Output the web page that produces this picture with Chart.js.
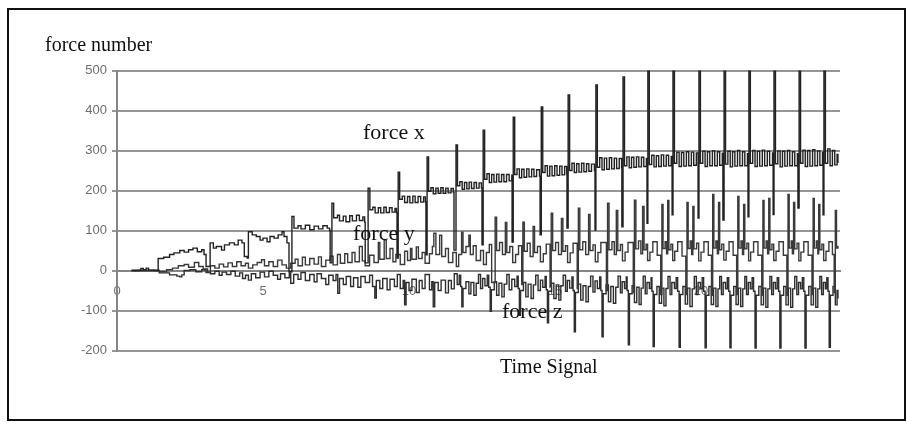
<!DOCTYPE html>
<html>
<head>
<meta charset="utf-8">
<script src="https://cdn.jsdelivr.net/npm/chart.js@4.4.1/dist/chart.umd.min.js"></script>
<style>
  html, body { margin: 0; padding: 0; background: #fff; }
  #wrap { position: relative; width: 907px; height: 422px; overflow: hidden; }
  #frame { position: absolute; left: 7px; top: 8px; width: 899px; height: 413px; border: 2px solid #111; box-sizing: border-box; }
  #chart { position: absolute; left: 0; top: 0; }
  .lbl { position: absolute; font-family: 'Liberation Serif', 'Times New Roman', serif; color: #111; line-height: 1; white-space: nowrap; }
</style>
</head>
<body>
<div id="wrap">
  <div id="frame"></div>
  <canvas id="chart" width="907" height="422"></canvas>
  <div class="lbl" style="left:45px;top:34px;font-size:20px">force number</div>
  <div class="lbl" style="left:500px;top:356px;font-size:20px">Time Signal</div>
  <div class="lbl" style="left:363px;top:121px;font-size:22px">force x</div>
  <div class="lbl" style="left:353px;top:222px;font-size:22px">force y</div>
  <div class="lbl" style="left:502px;top:300px;font-size:22px">force z</div>
</div>
<script>
// --- data: [time, force] ---
const xTicks = [0, 5, 10, 15, 20];
const yTicks = [-200, -100, 0, 100, 200, 300, 400, 500];

const forceX = [
  [0.5,0],[0.75,1],[0.82,5],[0.9,2],[1.0,6],[1.08,1],[1.3,0],[1.39,0],
  [1.41,30],[1.6,33],[1.8,40],[1.95,44],[2.15,50],[2.3,46],[2.45,52],[2.6,56],[2.75,47],[2.9,52],[2.98,40],[3.05,10],[3.15,10],
  [3.19,69],[3.3,56],[3.4,60],[3.58,51],[3.68,64],[3.85,69],[4.02,64],[4.15,76],[4.28,69],[4.36,35],[4.46,31],
  [4.5,97],[4.63,89],[4.77,85],[4.9,76],[5.0,81],[5.14,72],[5.24,85],[5.38,81],[5.52,89],[5.65,97],[5.72,85],[5.82,69],[5.89,-3],
  [5.99,135],[6.06,106],[6.2,112],[6.3,104],[6.45,113],[6.6,102],[6.75,111],[6.9,104],[7.05,112],[7.2,106],[7.28,100],[7.3,19],
  [7.36,168],[7.42,132],[7.55,138],[7.62,124],[7.75,136],[7.84,122],[7.97,137],[8.06,124],[8.2,138],[8.3,125],[8.42,134],[8.48,121],[8.5,19],
  [8.6,206],[8.66,152],[8.76,158],[8.84,144],[8.95,157],[9.03,144],[9.14,158],[9.22,145],[9.33,157],[9.42,146],[9.52,155],[9.57,145],[9.59,31],
  [9.63,246],[9.68,178],[9.77,186],[9.85,170],[9.95,185],[10.03,169],[10.13,186],[10.21,170],[10.31,185],[10.4,171],[10.5,184],[10.56,172],[10.58,39],
  [10.62,284],[10.67,198],[10.75,207],[10.83,192],[10.92,206],[11.0,193],[11.09,207],[11.17,193],[11.26,206],[11.34,194],[11.44,205],[11.52,195],[11.54,51],
  [11.61,314],[11.66,212],[11.74,222],[11.82,203],[11.9,220],[11.98,204],[12.06,221],[12.14,205],[12.23,220],[12.31,206],[12.4,219],[12.48,207],[12.5,64],
  [12.54,351],[12.59,228],[12.67,242],[12.75,220],[12.83,240],[12.91,221],[13.0,241],[13.08,222],[13.17,240],[13.25,222],[13.34,240],[13.43,224],[13.52,238],[13.53,71],
  [13.57,383],[13.62,240],[13.7,254],[13.78,232],[13.86,253],[13.94,233],[14.03,254],[14.11,234],[14.2,253],[14.28,235],[14.37,252],[14.47,236],[14.49,89],
  [14.53,409],[14.58,245],[14.66,262],[14.74,236],[14.82,261],[14.9,237],[14.99,262],[15.07,238],[15.16,261],[15.24,239],[15.33,260],[15.4,242],[15.41,106],
  [15.45,439],[15.5,250],[15.58,268],[15.66,245],[15.74,267],[15.82,246],[15.91,268],[15.99,247],[16.08,267],[16.16,248],[16.25,266],[16.35,250],[16.37,101],
  [16.4,464],[16.45,258],[16.53,282],[16.61,252],[16.69,281],[16.77,253],[16.86,282],[16.94,254],[17.03,281],[17.11,255],[17.2,280],[17.28,258],[17.29,109],
  [17.33,484],[17.38,262],[17.46,284],[17.54,257],[17.62,283],[17.7,258],[17.79,284],[17.87,259],[17.96,283],[18.04,260],[18.13,280],[18.15,118],
  [18.18,500],[18.23,265],[18.31,288],[18.39,259],[18.47,287],[18.55,260],[18.64,289],[18.72,261],[18.81,288],[18.89,262],[18.98,285],[19.01,139],
  [19.04,500],[19.09,268],[19.17,296],[19.25,260],[19.33,295],[19.41,261],[19.5,297],[19.58,262],[19.67,296],[19.75,263],[19.84,294],[19.9,131],
  [19.93,500],[19.98,268],[20.06,298],[20.14,260],[20.22,297],[20.3,262],[20.39,299],[20.47,262],[20.56,297],[20.64,263],[20.73,293],[20.75,126],
  [20.79,500],[20.84,266],[20.92,298],[21.0,259],[21.08,297],[21.16,261],[21.25,300],[21.33,262],[21.42,297],[21.5,262],[21.59,292],[21.61,134],
  [21.64,500],[21.69,268],[21.77,300],[21.85,260],[21.93,298],[22.01,261],[22.1,301],[22.18,262],[22.27,298],[22.35,263],[22.45,294],[22.47,140],
  [22.5,500],[22.55,267],[22.63,299],[22.71,259],[22.79,298],[22.87,261],[22.96,300],[23.04,262],[23.13,297],[23.21,262],[23.3,292],[23.32,156],
  [23.36,500],[23.41,268],[23.49,301],[23.57,260],[23.65,300],[23.73,261],[23.82,302],[23.9,262],[23.99,299],[24.07,263],[24.16,295],[24.18,139],
  [24.21,500],[24.26,268],[24.34,304],[24.42,262],[24.5,300],[24.58,264],[24.66,290],[24.69,269]
];

const forceY = [
  [0.5,0],[1.35,0],[1.45,-3],[1.7,2],[1.9,6],[2.1,12],[2.3,15],[2.45,8],[2.65,20],[2.8,10],[2.95,4],[3.1,-4],[3.2,12],[3.35,6],[3.5,16],
  [3.65,9],[3.8,19],[3.95,10],[4.1,22],[4.25,12],[4.4,18],[4.5,6],[4.65,14],[4.8,20],[4.95,27],[5.05,12],[5.2,22],[5.35,10],[5.5,26],
  [5.65,14],[5.8,6],[5.95,18],[6.1,28],[6.2,12],[6.35,33],[6.45,14],[6.6,30],[6.75,16],[6.9,34],[7.0,10],[7.15,26],[7.3,36],[7.4,14],
  [7.55,40],[7.65,18],[7.8,42],[7.9,20],[8.05,45],[8.15,22],[8.3,60],[8.4,24],[8.5,12],[8.65,38],[8.8,20],[8.95,70],[9.0,28],[9.15,76],
  [9.22,30],[9.35,55],[9.45,22],[9.55,40],[9.7,15],[9.85,48],[9.95,25],[10.05,55],[10.1,28],[10.25,59],[10.32,30],[10.45,45],[10.55,18],
  [10.7,42],[10.8,60],[10.85,93],[10.92,40],[11.05,88],[11.12,35],[11.25,55],[11.35,20],[11.5,45],[11.62,10],[11.7,40],[11.8,96],[11.85,45],
  [11.95,60],[12.05,88],[12.1,40],[12.2,62],[12.3,25],[12.45,50],[12.55,15],[12.65,45],[12.75,65],[12.83,-30],[12.95,133],[13.0,50],
  [13.1,70],[13.2,40],[13.3,120],[13.35,45],[13.45,60],[13.55,20],
  [13.65,40],[13.75,62],[13.86,-35],[13.9,121],[13.95,48],[14.05,68],[14.15,35],[14.25,110],[14.3,45],[14.4,60],[14.5,22],
  [14.6,42],[14.7,66],[14.83,-40],[14.87,143],[14.92,50],[15.02,70],[15.12,40],[15.22,130],[15.27,48],[15.36,62],[15.43,20],
  [15.52,44],[15.62,68],[15.76,-45],[15.8,156],[15.85,52],[15.95,72],[16.05,40],[16.15,140],[16.2,50],[16.3,64],[16.38,22],
  [16.47,45],[16.57,70],[16.76,-50],[16.8,168],[16.85,52],[16.95,72],[17.03,40],[17.1,150],[17.15,50],[17.24,65],[17.31,24],
  [17.4,46],[17.5,70],[17.68,-55],[17.72,176],[17.77,54],[17.86,74],[17.94,42],[18.0,160],[18.05,52],[18.12,66],[18.17,25],
  [18.25,46],[18.35,72],[18.5,38],[18.62,-60],[18.66,165],[18.7,55],[18.77,72],[18.82,42],[18.86,175],[18.9,52],[18.97,66],[19.03,25],
  [19.1,48],[19.2,72],[19.35,36],[19.48,-60],[19.52,170],[19.56,55],[19.63,74],[19.68,40],[19.72,160],[19.76,54],[19.85,68],[19.92,24],
  [20.0,46],[20.1,72],[20.25,38],[20.36,-62],[20.4,190],[20.44,56],[20.51,74],[20.56,42],[20.6,170],[20.64,52],[20.71,66],[20.78,26],
  [20.86,48],[20.96,72],[21.1,38],[21.22,-60],[21.26,185],[21.3,56],[21.37,74],[21.42,40],[21.46,165],[21.5,54],[21.57,68],[21.63,24],
  [21.7,46],[21.8,72],[21.95,38],[22.08,-62],[22.12,175],[22.16,56],[22.23,74],[22.28,42],[22.32,180],[22.36,52],[22.43,66],[22.49,25],
  [22.57,48],[22.67,72],[22.82,38],[22.94,-62],[22.98,190],[23.02,56],[23.09,74],[23.13,42],[23.17,170],[23.21,54],[23.29,68],[23.35,24],
  [23.42,46],[23.52,72],[23.67,38],[23.8,-60],[23.84,180],[23.88,56],[23.95,74],[24.0,42],[24.03,165],[24.07,52],[24.14,66],[24.2,25],
  [24.28,48],[24.38,72],[24.5,40],[24.56,-55],[24.6,150],[24.64,56],[24.69,62]
];

const forceZ = [
  [0.5,0],[1.38,0],[1.45,-6],[1.8,-11],[2.05,-14],[2.15,-16],[2.22,-11],[2.3,0],[2.5,2],[2.7,-3],[2.9,2],[3.05,-5],[3.2,-8],[3.35,-2],
  [3.5,-12],[3.6,-4],[3.75,-10],[3.9,-2],[4.05,-14],[4.2,-6],[4.3,-20],[4.4,-12],[4.5,-24],[4.6,-8],[4.75,-18],[4.9,-4],[5.05,-16],
  [5.2,-2],[5.35,-12],[5.5,-22],[5.6,-8],[5.75,-18],[5.9,-6],[5.95,-32],[6.05,-10],[6.2,-22],[6.3,-5],[6.45,-25],[6.6,-10],[6.75,-28],
  [6.85,-8],[7.0,-20],[7.15,-35],[7.25,-12],[7.4,-25],[7.5,-10],[7.56,-57],[7.62,-20],[7.75,-35],[7.85,-15],[8.0,-40],[8.1,-18],
  [8.25,-42],[8.35,-15],[8.5,-30],[8.65,-12],[8.75,-40],[8.83,-69],[8.88,-25],[9.0,-45],[9.1,-20],[9.25,-48],[9.35,-22],[9.5,-40],
  [9.6,-10],[9.7,-45],[9.8,-25],[9.85,-86],[9.9,-30],[10.0,-50],[10.1,-22],[10.25,-55],[10.35,-25],[10.45,-45],[10.55,-10],[10.7,-48],
  [10.78,-28],[10.83,-91],[10.88,-30],[11.0,-50],[11.1,-24],[11.25,-56],[11.35,-25],[11.45,-46],[11.55,-8],
  [11.65,-35],[11.72,-12],[11.77,-40],[11.81,-91],[11.85,-45],[11.95,-28],[12.05,-58],[12.12,-30],[12.22,-62],[12.3,-32],[12.38,-10],[12.45,-45],[12.52,-20],
  [12.6,-38],[12.68,-12],[12.73,-42],[12.78,-102],[12.82,-48],[12.92,-28],[13.0,-62],[13.08,-32],[13.18,-66],[13.26,-34],[13.35,-10],[13.43,-48],[13.52,-22],
  [13.62,-40],[13.7,-14],[13.74,-45],[13.78,-112],[13.82,-50],[13.92,-30],[14.0,-66],[14.08,-34],[14.18,-70],[14.26,-36],[14.34,-12],[14.42,-50],[14.5,-24],
  [14.58,-42],[14.66,-15],[14.7,-48],[14.74,-131],[14.78,-52],[14.88,-32],[14.96,-70],[15.04,-36],[15.13,-74],[15.2,-38],[15.28,-12],[15.36,-52],[15.42,-25],
  [15.5,-44],[15.58,-16],[15.62,-50],[15.66,-153],[15.7,-55],[15.8,-34],[15.88,-74],[15.96,-38],[16.06,-78],[16.14,-40],[16.22,-14],[16.3,-54],[16.37,-26],
  [16.45,-45],[16.53,-16],[16.57,-50],[16.61,-166],[16.65,-58],[16.75,-36],[16.83,-78],[16.91,-40],[17.0,-82],[17.08,-42],[17.16,-14],[17.24,-56],[17.3,-28],
  [17.38,-45],[17.44,-16],[17.47,-50],[17.51,-186],[17.55,-58],[17.64,-38],[17.72,-80],[17.8,-42],[17.88,-85],[17.95,-44],[18.02,-14],[18.09,-58],[18.15,-30],
  [18.23,-45],[18.29,-18],[18.32,-52],[18.36,-190],[18.4,-60],[18.49,-40],[18.57,-82],[18.65,-44],[18.73,-88],[18.8,-45],[18.87,-15],[18.94,-60],[19.0,-30],
  [19.09,-45],[19.15,-18],[19.2,-52],[19.25,-192],[19.29,-60],[19.38,-40],[19.46,-84],[19.54,-44],[19.62,-90],[19.7,-46],[19.77,-15],[19.84,-60],[19.9,-30],
  [19.98,-46],[20.04,-18],[20.09,-52],[20.14,-193],[20.18,-62],[20.27,-40],[20.35,-85],[20.43,-44],[20.51,-90],[20.58,-46],[20.64,-15],[20.7,-60],[20.76,-30],
  [20.84,-46],[20.9,-18],[20.95,-52],[20.99,-193],[21.03,-62],[21.12,-40],[21.2,-85],[21.28,-44],[21.36,-90],[21.43,-46],[21.5,-15],[21.56,-60],[21.62,-30],
  [21.69,-46],[21.75,-18],[21.8,-52],[21.85,-194],[21.89,-62],[21.98,-40],[22.06,-86],[22.14,-44],[22.22,-92],[22.29,-46],[22.36,-15],[22.42,-60],[22.48,-30],
  [22.55,-46],[22.61,-18],[22.66,-52],[22.7,-194],[22.74,-62],[22.83,-40],[22.91,-86],[22.99,-44],[23.07,-92],[23.14,-46],[23.21,-15],[23.28,-60],[23.34,-30],
  [23.41,-46],[23.47,-18],[23.52,-52],[23.56,-194],[23.6,-62],[23.69,-40],[23.77,-86],[23.85,-44],[23.93,-92],[24.0,-46],[24.07,-15],[24.13,-60],[24.19,-30],
  [24.26,-46],[24.31,-18],[24.35,-52],[24.39,-192],[24.43,-62],[24.52,-40],[24.6,-86],[24.66,-50],[24.69,-70]
];

const toPoints = arr => arr.map(([x, y]) => ({ x, y }));

// the original trace is drawn as vertical jumps with flat runs, so use stepped lines
function series(label, data, color) {
  return {
    label: label,
    data: toPoints(data),
    showLine: true,
    stepped: true,
    borderColor: color,
    borderWidth: 1.4,
    pointRadius: 0,
    fill: false
  };
}

Chart.defaults.font.family = "'Liberation Sans', Arial, sans-serif";

new Chart(document.getElementById('chart'), {
  type: 'scatter',
  data: {
    datasets: [
      series('force x', forceX, '#222222'),
      series('force y', forceY, '#3a3a3a'),
      series('force z', forceZ, '#2e2e2e')
    ]
  },
  options: {
    responsive: false,
    animation: false,
    events: [],
    layout: { padding: { left: 67, right: 67, top: 70.5, bottom: 71.5 } },
    plugins: { legend: { display: false }, tooltip: { enabled: false } },
    scales: {
      x: {
        type: 'linear', min: 0, max: 24.76,
        position: { y: 0 },
        afterFit: s => { s.height = 0; },
        afterBuildTicks: s => { s.ticks = xTicks.map(v => ({ value: v })); },
        grid: { display: false, drawTicks: false },
        border: { display: true, color: '#858585', width: 2 },
        ticks: { padding: 13, color: '#6e6e6e', font: { size: 13 }, callback: v => String(v) }
      },
      y: {
        min: -200, max: 500,
        afterFit: s => { s.width = 50; },
        afterBuildTicks: s => { s.ticks = yTicks.map(v => ({ value: v })); },
        grid: { color: '#959595', lineWidth: 2, tickLength: 5 },
        border: { display: true, color: '#858585', width: 2 },
        ticks: { padding: 5, color: '#6e6e6e', font: { size: 13 }, callback: v => String(v) }
      }
    }
  }
});
</script>
</body>
</html>
